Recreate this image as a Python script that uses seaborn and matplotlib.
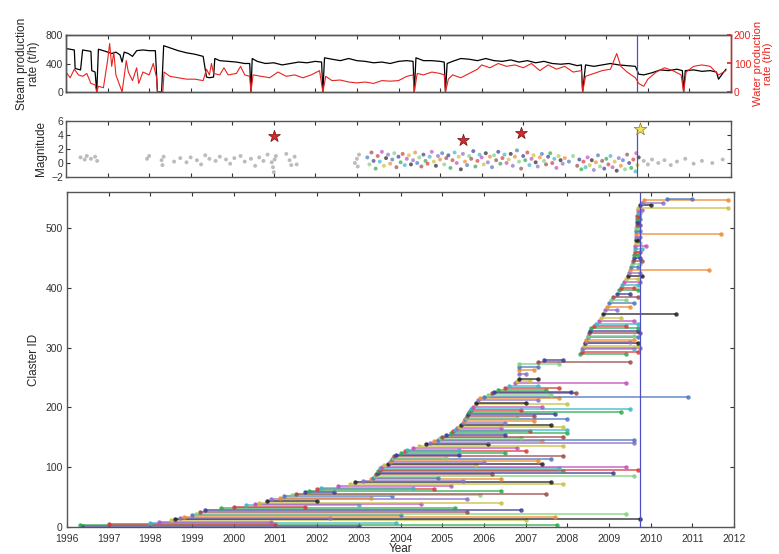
import numpy as np
import pandas as pd
import matplotlib
matplotlib.use("Agg")
import matplotlib.pyplot as plt
import seaborn as sns

# ---------------- data ----------------
steam_year = [1996.00, 1996.10, 1996.20, 1996.22, 1996.35, 1996.40, 1996.50, 1996.60, 1996.62, 1996.70,
              1996.74, 1996.78, 1996.90, 1997.00, 1997.10, 1997.20, 1997.30, 1997.35, 1997.40, 1997.50,
              1997.60, 1997.70, 1997.85, 1998.00, 1998.15, 1998.20, 1998.30, 1998.35, 1998.50, 1998.70,
              1998.90, 1999.10, 1999.30, 1999.38, 1999.45, 1999.55, 1999.58, 1999.70, 1999.90, 2000.10,
              2000.30, 2000.42, 2000.45, 2000.48, 2000.60, 2000.80, 2001.00, 2001.20, 2001.40, 2001.60,
              2001.80, 2002.00, 2002.15, 2002.18, 2002.22, 2002.40, 2002.60, 2002.80, 2003.00, 2003.20,
              2003.40, 2003.60, 2003.80, 2004.00, 2004.20, 2004.35, 2004.38, 2004.42, 2004.60, 2004.80,
              2005.00, 2005.10, 2005.13, 2005.17, 2005.30, 2005.50, 2005.70, 2005.90, 2006.10, 2006.30,
              2006.50, 2006.70, 2006.90, 2007.10, 2007.30, 2007.50, 2007.70, 2007.90, 2008.10, 2008.30,
              2008.40, 2008.43, 2008.50, 2008.70, 2008.90, 2009.10, 2009.30, 2009.50, 2009.70, 2009.78,
              2009.90, 2010.10, 2010.30, 2010.50, 2010.70, 2010.83, 2010.86, 2010.90, 2011.10, 2011.30,
              2011.50, 2011.65, 2011.70, 2011.80, 2011.88]
steam_rate = [610, 600, 590, 330, 310, 590, 580, 570, 300, 280,
              0, 600, 580, 560, 540, 560, 520, 420, 560, 540,
              500, 580, 590, 580, 580, 0, 0, 650, 620, 580,
              550, 530, 500, 210, 200, 210, 470, 440, 430, 420,
              400, 400, 0, 470, 430, 400, 410, 380, 400, 420,
              410, 430, 420, 0, 480, 460, 440, 470, 440, 430,
              410, 420, 400, 430, 440, 430, 0, 480, 440, 440,
              430, 420, 0, 400, 430, 470, 460, 440, 470, 440,
              430, 450, 420, 440, 410, 430, 400, 390, 400, 370,
              380, 0, 380, 360, 380, 400, 380, 370, 360, 250,
              240, 270, 310, 300, 320, 300, 0, 300, 310, 290,
              300, 280, 180, 260, 320]

water_year = [1996.00, 1996.10, 1996.20, 1996.30, 1996.40, 1996.50, 1996.60, 1996.70, 1996.74, 1996.78,
              1996.90, 1997.00, 1997.05, 1997.10, 1997.15, 1997.20, 1997.30, 1997.35, 1997.45, 1997.50,
              1997.60, 1997.70, 1997.75, 1997.85, 1998.00, 1998.10, 1998.18, 1998.20, 1998.33, 1998.36,
              1998.50, 1998.70, 1998.90, 1999.10, 1999.30, 1999.38, 1999.45, 1999.50, 1999.55, 1999.70,
              1999.80, 1999.90, 2000.10, 2000.20, 2000.30, 2000.42, 2000.45, 2000.50, 2000.70, 2000.90,
              2001.10, 2001.30, 2001.50, 2001.70, 2001.90, 2002.10, 2002.18, 2002.25, 2002.40, 2002.60,
              2002.80, 2003.00, 2003.20, 2003.40, 2003.60, 2003.80, 2004.00, 2004.20, 2004.35, 2004.38,
              2004.45, 2004.60, 2004.80, 2005.00, 2005.10, 2005.13, 2005.20, 2005.30, 2005.50, 2005.70,
              2005.90, 2006.00, 2006.20, 2006.40, 2006.60, 2006.80, 2007.00, 2007.20, 2007.40, 2007.60,
              2007.80, 2008.00, 2008.20, 2008.40, 2008.43, 2008.50, 2008.70, 2008.90, 2009.10, 2009.25,
              2009.35, 2009.50, 2009.70, 2009.78, 2009.90, 2010.00, 2010.20, 2010.40, 2010.60, 2010.80,
              2010.86, 2010.92, 2011.10, 2011.30, 2011.50, 2011.70, 2011.88]
water_rate = [70, 50, 80, 60, 55, 65, 30, 25, 0, 20,
              15, 110, 170, 90, 140, 60, 20, 0, 110, 70,
              40, 85, 30, 70, 60, 100, 50, 0, 0, 70,
              55, 50, 45, 45, 40, 80, 60, 100, 65, 60,
              85, 60, 65, 90, 60, 55, 0, 60, 55, 50,
              70, 55, 60, 50, 60, 75, 0, 55, 40, 42,
              35, 32, 35, 30, 40, 38, 40, 55, 60, 0,
              65, 60, 70, 65, 60, 0, 45, 60, 50, 65,
              80, 95, 85, 100, 90, 95, 85, 100, 75, 95,
              80, 90, 70, 75, 0, 55, 65, 75, 80, 135,
              90, 70, 50, 30, 20, 45, 70, 85, 75, 60,
              0, 70, 90, 95, 90, 60, 75]

event_year = [1996.35, 1996.45, 1996.50, 1996.60, 1996.70, 1996.75, 1997.95, 1998.00, 1998.30, 1998.32,
              1998.35, 1998.60, 1998.75, 1998.90, 1999.00, 1999.15, 1999.25, 1999.35, 1999.45, 1999.60,
              1999.70, 1999.85, 1999.95, 2000.05, 2000.20, 2000.30, 2000.45, 2000.55, 2000.65, 2000.75,
              2000.85, 2000.95, 2000.98, 2001.00, 2001.02, 2001.05, 2001.30, 2001.38, 2001.42, 2001.50,
              2001.55, 2002.95, 2003.00, 2003.02, 2003.05,
              2003.25, 2003.30, 2003.35, 2003.40, 2003.45, 2003.50, 2003.55, 2003.60, 2003.65, 2003.70,
              2003.75, 2003.80, 2003.85, 2003.90, 2003.95, 2004.00, 2004.05, 2004.10, 2004.15, 2004.20,
              2004.25, 2004.30, 2004.35, 2004.40, 2004.45, 2004.50, 2004.55, 2004.60, 2004.65, 2004.70,
              2004.75, 2004.80, 2004.85, 2004.90, 2004.95, 2005.00, 2005.05, 2005.10, 2005.15, 2005.20,
              2005.25, 2005.30, 2005.35, 2005.40, 2005.45, 2005.50, 2005.55, 2005.60, 2005.65, 2005.70,
              2005.75, 2005.80, 2005.85, 2005.90, 2005.95, 2006.00, 2006.05, 2006.10, 2006.15, 2006.20,
              2006.25, 2006.30, 2006.35, 2006.40, 2006.45, 2006.50, 2006.55, 2006.60, 2006.65, 2006.70,
              2006.75, 2006.80, 2006.85, 2006.90, 2006.95, 2007.00, 2007.05, 2007.10, 2007.15, 2007.20,
              2007.25, 2007.30, 2007.35, 2007.40, 2007.45, 2007.50, 2007.55, 2007.60, 2007.65, 2007.70,
              2007.75, 2007.80, 2007.85, 2007.90, 2007.95, 2008.00, 2008.10, 2008.20, 2008.30, 2008.35,
              2008.40, 2008.45, 2008.50, 2008.55, 2008.60, 2008.65, 2008.70, 2008.75, 2008.80, 2008.85,
              2008.90, 2008.95, 2009.00, 2009.05, 2009.10, 2009.15, 2009.20, 2009.25, 2009.30, 2009.35,
              2009.40, 2009.45, 2009.50, 2009.55, 2009.60, 2009.65, 2009.70, 2009.72, 2009.75, 2009.78,
              2009.90, 2010.00, 2010.10, 2010.25, 2010.40, 2010.55, 2010.70, 2010.90, 2011.10, 2011.30,
              2011.55, 2011.80]
event_mag = [0.8, 0.5, 1.0, 0.6, 0.9, 0.3, 0.6, 1.0, 0.4, -0.3,
             0.9, 0.2, 0.7, 0.1, 0.8, 0.4, -0.2, 1.1, 0.6, 0.3,
             0.9, 0.5, -0.1, 0.7, 1.0, 0.2, 0.6, -0.4, 0.8, 0.3,
             1.2, 0.1, -0.6, -1.3, 0.5, 1.0, 1.3, 0.4, -0.3, 0.9,
             -0.2, 0.0, 0.6, -0.5, 1.2,
             0.8, -0.2, 1.5, 0.3, -0.8, 1.0, 0.2, 1.6, -0.4, 0.7,
             1.2, -0.1, 0.5, 1.4, -0.6, 0.9, 0.1, 1.3, -0.3, 0.6,
             1.1, -0.2, 0.4, 1.5, 0.0, 0.8, -0.5, 1.2, 0.3, -0.1,
             0.9, 1.6, 0.2, -0.4, 1.0, 0.5, 1.4, -0.2, 0.7, 1.1,
             -0.7, 0.4, 1.5, 0.0, 0.9, -0.9, 1.3, 0.2, -0.3, 1.0,
             0.6, 1.7, -0.5, 0.3, 1.2, 0.8, -0.2, 1.4, 0.1, 0.9,
             -0.6, 1.1, 0.4, 1.6, -0.1, 0.7, 1.2, 0.0, 0.5, 1.3,
             -0.4, 0.9, 1.8, 0.2, -0.8, 1.0, 0.4, 1.5, -0.3, 0.6,
             1.1, 0.1, -0.5, 0.8, 1.3, 0.3, -0.2, 0.9, 1.4, 0.0,
             0.6, -0.7, 1.0, 0.4, -0.1, 0.7, 0.2, 1.0, -0.4, 0.5,
             -0.9, 0.2, -0.6, 0.8, -0.3, 0.4, -1.0, 0.1, 1.1, -0.5,
             0.3, -0.8, 0.6, -0.2, 1.0, -0.6, 0.2, -1.1, 0.7, -0.4,
             0.4, -0.9, 1.2, 0.0, -0.7, 0.5, -1.2, 1.4, -0.3, 0.8,
             0.3, -0.2, 0.5, 0.0, 0.4, -0.3, 0.2, 0.6, -0.1, 0.3,
             0.0, 0.5]

star_year = [2001.0, 2005.55, 2006.95]
star_mag = [3.8, 3.3, 4.3]
main_star_year = [2009.8]
main_star_mag = [4.9]
main_event_year = 2009.75

cluster_id = [1, 3, 5, 7, 9, 11, 13, 15, 17, 20, 22, 25, 28, 31, 34, 36, 38, 40, 43, 46,
              49, 51, 53, 55, 58, 61, 64, 66, 69, 72, 75, 77, 80, 82, 85, 88, 91, 93, 96, 98,
              101, 103, 106, 109, 111, 113, 116, 118, 121, 124, 127, 129, 132, 135, 138, 140, 143, 146, 148, 151,
              154, 157, 160, 162, 165, 168, 171, 174, 177, 180, 183, 186, 189, 193, 196, 198, 201, 205, 208, 212,
              215, 218, 221, 224, 226, 229, 233, 236, 240, 244, 248, 255, 262, 268, 272, 276, 280, 290, 293, 297,
              300, 303, 307, 310, 313, 317, 320, 324, 328, 332, 336, 340, 345, 350, 356, 362, 368, 374, 380, 384,
              390, 396, 400, 405, 410, 415, 420, 425, 430, 435, 440, 445, 450, 455, 460, 465, 470, 475, 480, 485,
              490, 495, 500, 505, 510, 515, 520, 525, 530, 534, 538, 542, 546, 549]
cluster_start = [1996.35, 1996.3, 1997.0, 1998.0, 1998.2, 1998.5, 1998.6, 1998.7, 1998.8, 1999.0,
                 1999.1, 1999.2, 1999.3, 1999.7, 2000.0, 2000.3, 2000.5, 2000.6, 2000.8, 2000.9,
                 2001.1, 2001.2, 2001.4, 2001.5, 2001.7, 2001.8, 2002.0, 2002.1, 2002.5, 2002.8,
                 2002.9, 2003.1, 2003.3, 2003.35, 2003.4, 2003.42, 2003.45, 2003.47, 2003.5, 2003.52,
                 2003.55, 2003.6, 2003.7, 2003.75, 2003.78, 2003.8, 2003.82, 2003.85, 2003.9, 2004.0,
                 2004.1, 2004.15, 2004.3, 2004.45, 2004.6, 2004.7, 2004.8, 2004.9, 2004.95, 2005.0,
                 2005.1, 2005.2, 2005.25, 2005.3, 2005.35, 2005.4, 2005.45, 2005.5, 2005.52, 2005.55,
                 2005.58, 2005.6, 2005.62, 2005.65, 2005.68, 2005.7, 2005.75, 2005.8, 2005.82, 2005.85,
                 2005.9, 2006.0, 2006.1, 2006.2, 2006.25, 2006.35, 2006.5, 2006.6, 2006.75, 2006.8,
                 2006.85, 2006.85, 2006.85, 2006.85, 2006.85, 2007.3, 2007.45, 2008.3, 2008.35, 2008.35,
                 2008.37, 2008.4, 2008.42, 2008.45, 2008.45, 2008.5, 2008.5, 2008.52, 2008.55, 2008.58,
                 2008.65, 2008.7, 2008.75, 2008.8, 2008.85, 2008.9, 2008.95, 2009.0, 2009.05, 2009.1,
                 2009.2, 2009.25, 2009.3, 2009.32, 2009.35, 2009.4, 2009.45, 2009.48, 2009.5, 2009.52,
                 2009.55, 2009.57, 2009.6, 2009.6, 2009.62, 2009.62, 2009.63, 2009.64, 2009.65, 2009.65,
                 2009.65, 2009.66, 2009.66, 2009.67, 2009.67, 2009.68, 2009.68, 2009.69, 2009.7, 2009.7,
                 2009.75, 2009.8, 2009.85, 2010.4]
cluster_end = [2003.0, 2007.75, 2001.0, 2003.9, 2000.9, 2007.0, 2009.75, 2002.3, 2007.7, 2004.0,
               2009.4, 2005.6, 2006.9, 2005.3, 2001.7, 2003.0, 2004.5, 2006.4, 2002.0, 2005.6,
               2003.3, 2003.8, 2005.9, 2007.5, 2002.4, 2006.4, 2004.8, 2004.3, 2005.2, 2007.9,
               2007.6, 2005.5, 2006.4, 2004.9, 2009.6, 2006.2, 2009.1, 2007.9, 2009.7, 2007.8,
               2009.4, 2005.8, 2007.4, 2006.0, 2007.3, 2007.6, 2005.1, 2007.9, 2005.4, 2006.5,
               2007.0, 2005.4, 2006.8, 2007.9, 2006.1, 2009.6, 2007.4, 2009.6, 2006.9, 2007.9,
               2006.5, 2008.0, 2007.1, 2008.0, 2006.4, 2007.9, 2007.6, 2006.5, 2007.2, 2008.0,
               2006.8, 2007.2, 2007.7, 2009.3, 2006.9, 2009.5, 2007.4, 2008.0, 2007.0, 2007.3,
               2007.8, 2010.9, 2007.6, 2008.2, 2008.1, 2007.5, 2007.8, 2007.3, 2009.4, 2007.1,
               2007.3, 2007.0, 2007.2, 2007.3, 2007.8, 2009.5, 2007.9, 2009.4, 2009.7, 2009.6,
               2009.75, 2009.7, 2009.7, 2009.5, 2009.6, 2009.7, 2009.6, 2009.75, 2009.7, 2009.7,
               2009.4, 2009.7, 2009.6, 2009.3, 2010.6, 2009.2, 2009.5, 2009.6, 2009.4, 2009.7,
               2009.5, 2009.7, 2009.6, 2009.7, 2009.75, 2009.7, 2009.8, 2009.75, 2011.4, 2009.7,
               2009.75, 2009.8, 2009.75, 2009.7, 2009.75, 2009.8, 2009.9, 2009.75, 2009.7, 2009.75,
               2011.7, 2009.75, 2009.7, 2009.75, 2009.7, 2009.75, 2009.72, 2009.75, 2009.8, 2011.85,
               2010.0, 2010.3, 2011.85, 2011.0]

year_ticks = list(range(1996, 2013))

# ---------------- style ----------------
sns.set_theme(style="ticks")
plt.rcParams["font.family"] = ["Liberation Sans", "DejaVu Sans"]
plt.rcParams["axes.edgecolor"] = "#555555"
plt.rcParams["axes.linewidth"] = 1.0

palette_cycle = ["#3b3b9a", "#2fa84f", "#d63a3a", "#35b8c8", "#c04fc0", "#c8c040",
                 "#222222", "#8a6fc8", "#f08a30", "#4a78c0", "#7fd07f", "#9a4a4a"]

fig = plt.figure(figsize=(7.79, 5.54), dpi=100)
W, H = 779, 554
ax1 = fig.add_axes([66 / W, 1 - 92 / H, (731 - 66) / W, (92 - 35) / H])
ax2 = fig.add_axes([66 / W, 1 - 177 / H, (731 - 66) / W, (177 - 121) / H])
ax3 = fig.add_axes([67 / W, 1 - 527 / H, (734 - 67) / W, (527 - 192) / H])

tick_fs = 7.5
label_fs = 8.5

def style_axis(ax):
    ax.tick_params(direction="in", length=3, width=0.8, labelsize=tick_fs, colors="#333333",
                   top=True, right=True, pad=2)
    for s in ax.spines.values():
        s.set_color("#555555")

# ---------------- top panel ----------------
steam_df = pd.DataFrame({"year": steam_year, "rate": steam_rate})
water_df = pd.DataFrame({"year": water_year, "rate": water_rate})
sns.lineplot(data=steam_df, x="year", y="rate", ax=ax1, color="black", linewidth=0.9,
             estimator=None, sort=False)
ax1r = ax1.twinx()
sns.lineplot(data=water_df, x="year", y="rate", ax=ax1r, color="#e8231f", linewidth=0.8,
             estimator=None, sort=False)
ax1.axvline(main_event_year, color="#5050c0", linewidth=0.9)
ax1.set_xlim(1996, 2012)
ax1.set_ylim(0, 800)
ax1.set_yticks([0, 400, 800])
ax1.set_xticks(year_ticks)
ax1.set_xticklabels([])
ax1.set_xlabel("")
ax1.set_ylabel("Steam production\nrate (t/h)", fontsize=label_fs, labelpad=4, linespacing=1.0)
style_axis(ax1)
ax1.tick_params(right=False)
ax1r.set_ylim(0, 200)
ax1r.set_yticks([0, 100, 200])
ax1r.set_ylabel("Water production\nrate (t/h)", fontsize=8, color="#e8231f",
                labelpad=1, linespacing=1.0)
ax1r.tick_params(direction="in", length=3, labelsize=tick_fs, colors="#e8231f", pad=2)
for s in ax1r.spines.values():
    s.set_color("#555555")
ax1r.spines["right"].set_color("#e8231f")

# ---------------- middle panel ----------------
ev_df = pd.DataFrame({"year": event_year, "mag": event_mag})
ev_df["grp"] = [str(i % len(palette_cycle)) for i in range(len(ev_df))]
ev_df.loc[(ev_df["year"] < 2003.2) | (ev_df["year"] > 2009.85), "grp"] = "early"
pal_ev = {str(i): c for i, c in enumerate(palette_cycle)}
pal_ev["early"] = "#a0a0a0"
sns.scatterplot(data=ev_df, x="year", y="mag", hue="grp", palette=pal_ev, ax=ax2,
                s=8, marker="o", linewidth=0, alpha=0.7, legend=False)
ax2.plot([main_event_year, main_event_year], [-2, 4.7], color="#5050c0", linewidth=0.9)
sns.scatterplot(x=star_year, y=star_mag, ax=ax2, marker="*", s=80, color="#d42a2a",
                edgecolor="#6a1010", linewidth=0.5, legend=False, zorder=5)
sns.scatterplot(x=main_star_year, y=main_star_mag, ax=ax2, marker="*", s=90, color="#f0e060",
                edgecolor="#8a7a20", linewidth=0.5, legend=False, zorder=5)
ax2.set_xlim(1996, 2012)
ax2.set_ylim(-2, 6)
ax2.set_yticks([-2, 0, 2, 4, 6])
ax2.set_xticks(year_ticks)
ax2.set_xticklabels([])
ax2.set_xlabel("")
ax2.set_ylabel("Magnitude", fontsize=label_fs, labelpad=3)
style_axis(ax2)

# ---------------- bottom panel ----------------
rows = []
for k, (cid, st, en) in enumerate(zip(cluster_id, cluster_start, cluster_end)):
    rows.append({"cluster": k, "id": cid, "year": st})
    rows.append({"cluster": k, "id": cid, "year": en})
cl_df = pd.DataFrame(rows)
pal_cl = {k: palette_cycle[k % len(palette_cycle)] for k in range(len(cluster_id))}
sns.lineplot(data=cl_df, x="year", y="id", hue="cluster", palette=pal_cl, ax=ax3,
             estimator=None, sort=False, linewidth=1.1, marker="o", markersize=3.2,
             markeredgewidth=0, alpha=0.85, legend=False)
ax3.axvline(main_event_year, color="#5050c0", linewidth=0.9)
ax3.set_xlim(1996, 2012)
ax3.set_ylim(0, 560)
ax3.set_yticks([0, 100, 200, 300, 400, 500])
ax3.set_xticks(year_ticks)
ax3.set_xticklabels([str(y) for y in year_ticks])
ax3.set_xlabel("Year", fontsize=label_fs, labelpad=-1)
ax3.set_ylabel("Claster ID", fontsize=label_fs, labelpad=4)
style_axis(ax3)
ax3.tick_params(axis="x", pad=5)
ax3.tick_params(axis="y", pad=3)

fig.savefig("out.png", dpi=100)
